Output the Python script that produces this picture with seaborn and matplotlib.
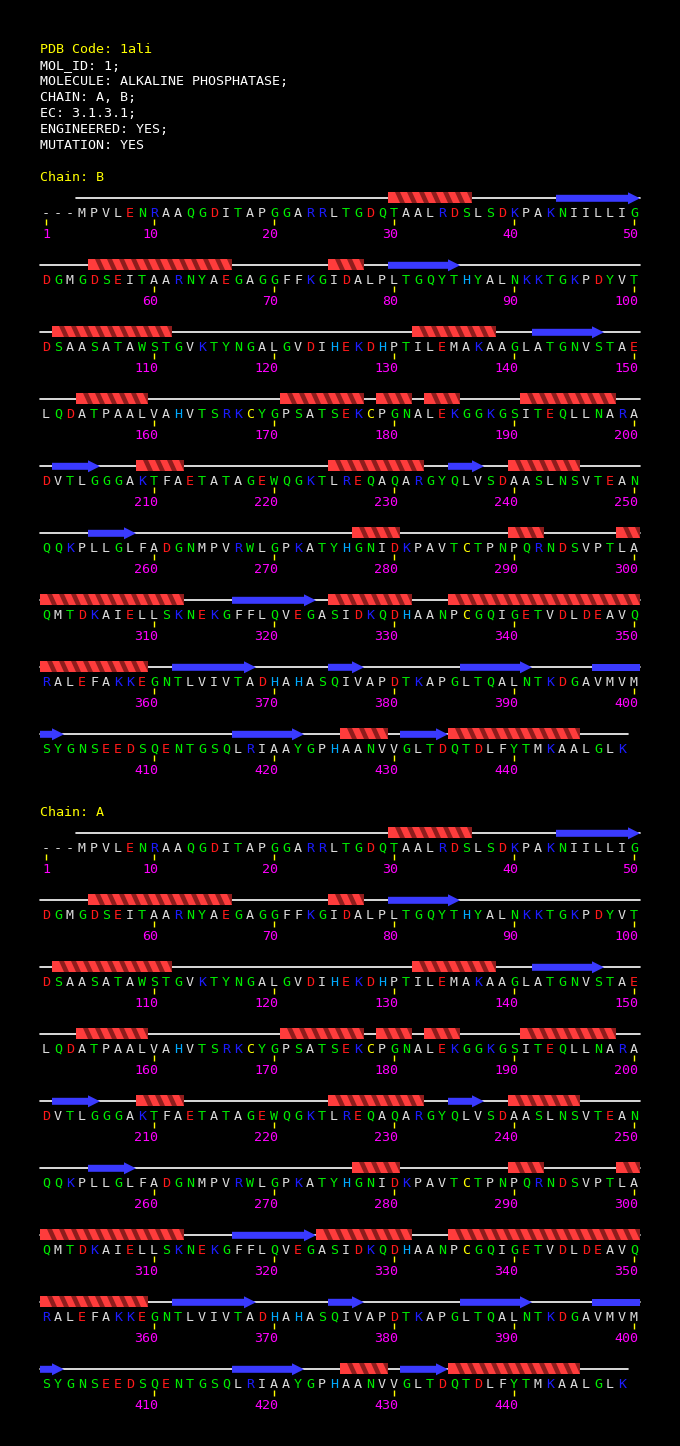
import matplotlib
matplotlib.use("Agg")
import matplotlib.pyplot as plt
from matplotlib.patches import Polygon, Rectangle
import pandas as pd
import seaborn as sns

# header text
PDB_CODE = "1ali"
HEADER_LINES = ["MOL_ID: 1;", "MOLECULE: ALKALINE PHOSPHATASE;", "CHAIN: A, B;",
                "EC: 3.1.3.1;", "ENGINEERED: YES;", "MUTATION: YES"]

# sequence, 50 residues per row ('-' = not present)
SEQUENCE_ROWS = [
    "---MPVLENRAAQGDITAPGGARRLTGDQTAALRDSLSDKPAKNIILLIG",
    "DGMGDSEITAARNYAEGAGGFFKGIDALPLTGQYTHYALNKKTGKPDYVT",
    "DSAASATAWSTGVKTYNGALGVDIHEKDHPTILEMAKAAGLATGNVSTAE",
    "LQDATPAALVAHVTSRKCYGPSATSEKCPGNALEKGGKGSITEQLLNARA",
    "DVTLGGGAKTFAETATAGEWQGKTLREQAQARGYQLVSDAASLNSVTEAN",
    "QQKPLLGLFADGNMPVRWLGPKATYHGNIDKPAVTCTPNPQRNDSVPTLA",
    "QMTDKAIELLSKNEKGFFLQVEGASIDKQDHAANPCGQIGETVDLDEAVQ",
    "RALEFAKKEGNTLVIVTADHAHASQIVAPDTKAPGLTQALNTKDGAVMVM",
    "SYGNSEEDSQENTGSQLRIAAYGPHAANVVGLTDQTDLFYTMKAALGLK",
]

CHAINS = ["B", "A"]
HELICES_B = [(30, 36), (55, 66), (75, 77), (102, 111), (132, 138), (154, 159),
             (171, 177), (179, 181), (183, 185), (191, 198), (209, 212), (225, 232),
             (240, 245), (277, 280), (290, 292), (299, 312), (325, 331), (335, 359),
             (426, 429), (435, 445)]
STRANDS_B = [(44, 50), (80, 85), (142, 147), (202, 205), (235, 237), (255, 258),
             (317, 323), (362, 368), (375, 377), (386, 391), (397, 402), (417, 422),
             (431, 434)]
HELICES_A = [(30, 36), (55, 66), (75, 77), (102, 111), (132, 138), (154, 159),
             (171, 177), (179, 181), (183, 185), (191, 198), (209, 212), (225, 232),
             (240, 245), (277, 280), (290, 292), (299, 312), (324, 331), (335, 359),
             (426, 429), (435, 445)]
STRANDS_A = STRANDS_B
SS = {"B": (HELICES_B, STRANDS_B), "A": (HELICES_A, STRANDS_A)}

RES_COLORS = {}
for aa in "DE":
    RES_COLORS[aa] = "#ff1a1a"
for aa in "KR":
    RES_COLORS[aa] = "#1c1cff"
for aa in "GNQSTYW":
    RES_COLORS[aa] = "#00ee00"
for aa in "AVLIMFP-":
    RES_COLORS[aa] = "#dcdcdc"
RES_COLORS["H"] = "#00aaff"
RES_COLORS["C"] = "#ffff00"

# layout in pixels
PER_ROW = 50
X0, DX = 46, 12
LINE_Y0 = 198.3
ROW_DY = 67
CHAIN_DY = 635
FS = 9.6
MONO = ["DejaVu Sans Mono"]

sns.set_theme(style="dark", rc={"axes.facecolor": "black", "figure.facecolor": "black"})
plt.rcParams["font.family"] = MONO

fig = plt.figure(figsize=(6.8, 14.46), dpi=100)
ax = fig.add_axes([0, 0, 1, 1])


def res_x(n):
    return X0 + DX * ((n - 1) % PER_ROW)


def res_row(n):
    return (n - 1) // PER_ROW


def split_rows(a, b):
    # an element can run over the end of a row
    parts = []
    s = a
    while s <= b:
        e = min(b, (res_row(s) + 1) * PER_ROW)
        parts.append((s, e))
        s = e + 1
    return parts


def draw_helix(a, b, base):
    for s, e in split_rows(a, b):
        y = base + res_row(s) * ROW_DY
        top, bot = y - 6.3, y + 4.7
        xl, xr = res_x(s) - 6, res_x(e) + 6
        ax.add_patch(Rectangle((xl, top), xr - xl, bot - top, color="#8e1c1c", lw=0, zorder=3))
        for n in range(s, e + 1):
            x = res_x(n) - 6
            pts = [(x, top), (x + 7, top), (x + 12, bot), (x + 5, bot)]
            if n == s:
                pts = [(x, top), (x + 7, top), (x + 12, bot), (x, bot)]
            ax.add_patch(Polygon(pts, closed=True, color="#ff3c3c", lw=0, zorder=4))


def draw_strand(a, b, base):
    for s, e in split_rows(a, b):
        y = base + res_row(s) * ROW_DY
        xl, xr = res_x(s) - 6, res_x(e) + 6
        if e == b:
            hx = xr - 12
            pts = [(xl, y - 3.5), (hx, y - 3.5), (hx, y - 6), (xr, y), (hx, y + 6),
                   (hx, y + 3.5), (xl, y + 3.5)]
        else:
            pts = [(xl, y - 3.5), (xr, y - 3.5), (xr, y + 3.5), (xl, y + 3.5)]
        ax.add_patch(Polygon(pts, closed=True, color="#3a3aff", lw=0, zorder=4))


# header
ax.text(40, 52.7, "PDB Code: " + PDB_CODE, color="#ffff00", fontsize=FS, family=MONO)
for i, line in enumerate(HEADER_LINES):
    ax.text(40, 68.7 + 16 * i, line, color="white", fontsize=FS, family=MONO)

seg_rows = []
for c, chain in enumerate(CHAINS):
    base = LINE_Y0 + c * CHAIN_DY
    ax.text(40, base - 17.3, "Chain: " + chain, color="#ffff00", fontsize=FS, family=MONO)
    for r, seq in enumerate(SEQUENCE_ROWS):
        y = base + r * ROW_DY
        first = r * PER_ROW + 1 + (len(seq) - len(seq.lstrip("-")))
        last = r * PER_ROW + len(seq)
        seg_rows.append({"seg": f"{chain}{r}", "x": res_x(first) - 6, "y": y})
        seg_rows.append({"seg": f"{chain}{r}", "x": res_x(last) + 6, "y": y})
        for k, aa in enumerate(seq):
            n = r * PER_ROW + k + 1
            x = res_x(n)
            ax.text(x, y + 18.4, aa, color=RES_COLORS[aa], fontsize=FS, family=MONO,
                    ha="center", va="baseline")
            if n == 1 or n % 10 == 0:
                ax.vlines(x, y + 21, y + 27, color="#ffff00", lw=1.0)
                ax.text(x + 4, y + 40, str(n), color="#ff00ff", fontsize=FS, family=MONO,
                        ha="right", va="baseline")
    helices, strands = SS[chain]
    for a, b in helices:
        draw_helix(a, b, base)
    for a, b in strands:
        draw_strand(a, b, base)

backbone = pd.DataFrame(seg_rows)
sns.lineplot(data=backbone, x="x", y="y", units="seg", estimator=None, sort=False,
             color="white", lw=1.2, ax=ax, legend=False, zorder=2)

ax.set_xlim(0, 680)
ax.set_ylim(1446, 0)
ax.set_axis_off()
fig.savefig("out.png", dpi=100, facecolor="black")
